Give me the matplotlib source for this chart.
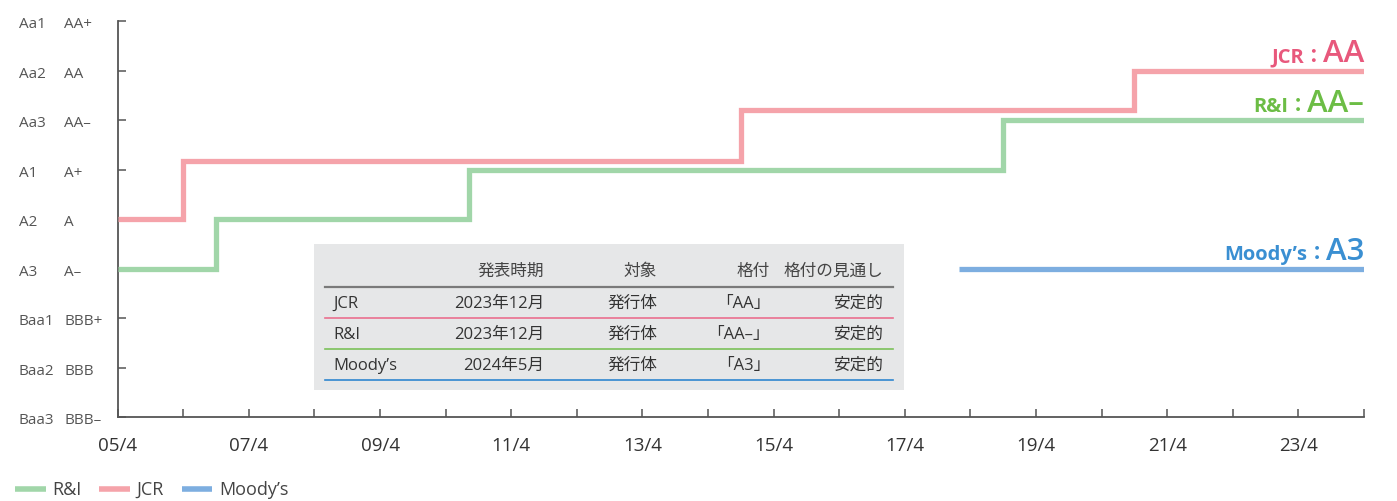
import numpy as np
import matplotlib
matplotlib.use("Agg")
import matplotlib.pyplot as plt
import matplotlib.transforms as mtransforms
from matplotlib.lines import Line2D

plt.rcParams["font.family"] = ["Open Sans", "Noto Sans CJK JP", "DejaVu Sans"]

# ---------- data (dates as decimal years; April = .25) ----------
MOODY_SCALE = ["Baa3", "Baa2", "Baa1", "A3", "A2", "A1", "Aa3", "Aa2", "Aa1"]
SP_SCALE = ["BBB–", "BBB", "BBB+", "A–", "A", "A+", "AA–", "AA", "AA+"]
END = 2024.25

ri_dates = [2005.25, 2006.75, 2010.6, 2018.75]
ri_ratings = ["A–", "A", "A+", "AA–"]
jcr_dates = [2005.25, 2006.25, 2014.75, 2020.75]
jcr_ratings = ["A", "A+", "AA–", "AA"]
moody_dates = [2018.08]
moody_ratings = ["A3"]

xtick_years = list(range(2005, 2025))
table_header = ["", "発表時期", "対象", "格付", "格付の見通し"]
table_rows = [
    ["JCR", "2023年12月", "発行体", "「AA」", "安定的"],
    ["R&I", "2023年12月", "発行体", "「AA–」", "安定的"],
    ["Moody’s", "2024年5月", "発行体", "「A3」", "安定的"],
]

C_RI, C_JCR, C_MO = "#a1d6a9", "#f5a3aa", "#7daee0"
T_RI, T_JCR, T_MO = "#6cbd45", "#e8587c", "#3a8fd2"
ROW_LINE = ["#ea6f8e", "#7cc15a", "#2f86cf"]

W, H = 1397, 501
fig = plt.figure(figsize=(W / 100, H / 100), dpi=100)
ax = fig.add_axes([117.7 / W, 1 - 417.3 / H, (1364 - 117.7) / W, (417.3 - 21.3) / H])

def lvl(r, scale=SP_SCALE):
    return scale.index(r)

def step(ax, dates, levels, color, lift=None):
    y = np.array(levels, float)
    if lift is not None:
        y = y + np.array(lift)
    ax.step(dates + [END], list(y) + [y[-1]], where="post", color=color, lw=3.8,
            solid_joinstyle="miter", solid_capstyle="butt", zorder=3)

step(ax, ri_dates, [lvl(r) for r in ri_ratings], C_RI)
# JCR drawn slightly above R&I where both sit on the same grade
step(ax, jcr_dates, [lvl(r) for r in jcr_ratings], C_JCR, lift=[0, 0.18, 0.2, 0])
step(ax, moody_dates, [lvl(r, MOODY_SCALE) for r in moody_ratings], C_MO)

ax.set_xlim(2005.25, END)
ax.set_ylim(0, 8)
for s in ["top", "right"]:
    ax.spines[s].set_visible(False)
for s in ["left", "bottom"]:
    ax.spines[s].set_color("#555555"); ax.spines[s].set_linewidth(1.3)

ax.set_xticks([y + 0.25 for y in xtick_years])
ax.set_xticklabels([f"{y % 100:02d}/4" if (y - 2005) % 2 == 0 and y < 2024 else ""
                    for y in xtick_years])
ax.tick_params(axis="x", direction="in", length=6, width=1.1, color="#555555",
               labelsize=13.5, labelcolor="#333333", pad=14)
ax.set_yticks(range(9))
ax.set_yticklabels([])
ax.tick_params(axis="y", direction="in", length=6, width=1.1, color="#555555")

tr = mtransforms.blended_transform_factory(fig.transFigure, ax.transData)
for i, (m, s) in enumerate(zip(MOODY_SCALE, SP_SCALE)):
    ax.text(19 / W, i - 0.07, m, transform=tr, fontsize=11, color="#555555",
            ha="left", va="center")
    ax.text(64 / W, i - 0.07, s, transform=tr, fontsize=11, color="#555555",
            ha="left", va="center")

# ---------- end labels ----------
ends = [("JCR", "AA", lvl("AA"), T_JCR),
        ("R&I", "AA–", lvl("AA–"), T_RI),
        ("Moody’s", "A3", lvl("A3", MOODY_SCALE), T_MO)]
for name, val, y, col in ends:
    big = ax.annotate(val, xy=(END, y), xytext=(0, 6), textcoords="offset points",
                      ha="right", va="baseline", fontsize=22.5, color=col,
                      fontweight="semibold")
    ax.annotate(name + "：", xy=(0, 0), xycoords=big, xytext=(1, 1.5),
                textcoords="offset points", ha="right", va="bottom",
                fontsize=14.5, color=col, fontweight="bold")

# ---------- table ----------
tx0, ty0, tx1, ty1 = 314, 244, 904, 390
tab = fig.add_axes([tx0 / W, 1 - ty1 / H, (tx1 - tx0) / W, (ty1 - ty0) / H])
tab.set_facecolor("#e6e7e8")
tab.set_xlim(tx0, tx1); tab.set_ylim(ty1, ty0)
tab.set_xticks([]); tab.set_yticks([])
for s in tab.spines.values():
    s.set_visible(False)
col_x = [333, 544, 657, 770, 883]
col_ha = ["left", "right", "right", "right", "right"]
fs = 12
for x, ha, t in zip(col_x, col_ha, table_header):
    tab.text(x, 272, t, ha=ha, va="center", fontsize=fs, color="#444444")
tab.plot([325, 893], [287, 287], color="#7a7a7a", lw=1.6)
for r, row in enumerate(table_rows):
    yt = 304 + r * 31
    for x, ha, t in zip(col_x, col_ha, row):
        tab.text(x, yt, t, ha=ha, va="center", fontsize=fs, color="#333333")
    tab.plot([325, 893], [318 + r * 31] * 2, color=ROW_LINE[r], lw=1.2)

# ---------- legend ----------
handles = [Line2D([], [], color=C_RI, lw=4, solid_capstyle="butt"),
           Line2D([], [], color=C_JCR, lw=4, solid_capstyle="butt"),
           Line2D([], [], color=C_MO, lw=4, solid_capstyle="butt")]
fig.legend(handles, ["R&I", "JCR", "Moody’s"], loc="center left",
           bbox_to_anchor=(15 / W, 11 / H), ncol=3, frameon=False, fontsize=13,
           handlelength=1.7, handletextpad=0.35, columnspacing=1.0,
           borderpad=0, borderaxespad=0, labelcolor="#444444")

fig.savefig("out.png", dpi=100)
